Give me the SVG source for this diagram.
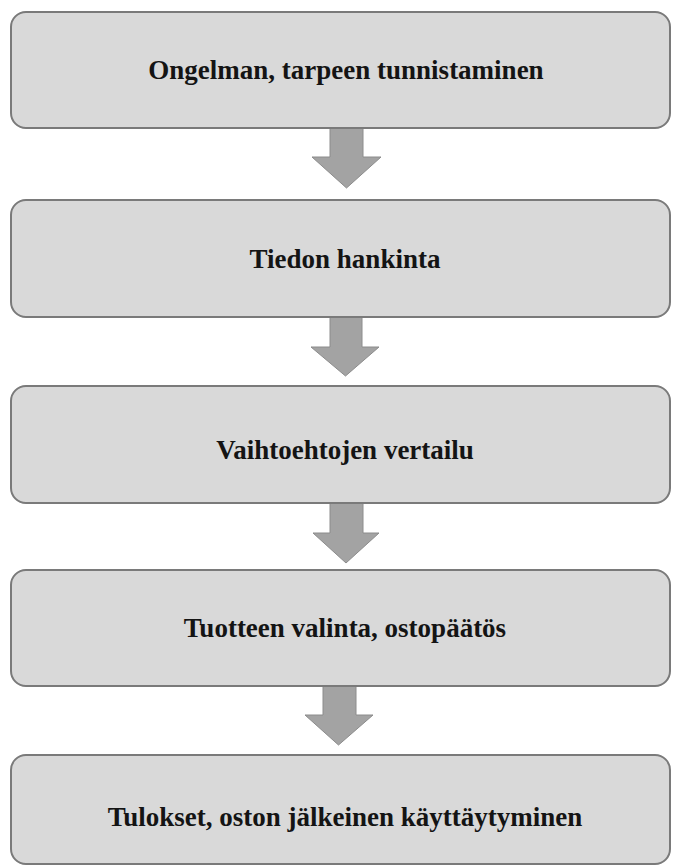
<svg xmlns="http://www.w3.org/2000/svg" width="673" height="867" viewBox="0 0 673 867">
<style>
.box{fill:#d9d9d9;stroke:#7a7a7a;stroke-width:2}
.lbl{font-family:"Liberation Serif","Times New Roman",serif;font-weight:bold;font-size:27px;fill:#141414;text-anchor:middle}
.arr{fill:#a3a3a3;stroke:#8c8c8c;stroke-width:1}
</style>
<rect width="673" height="867" fill="#ffffff"/>
<g id="connectors">
<path class="arr" d="M330,128 H363 V157 H381 L346.5,188 L312,157 H330 Z"/>
<path class="arr" d="M330,317 H362 V347 H379 L345.5,376 L311,347 H330 Z"/>
<path class="arr" d="M330,503 H363 V533 H379 L346,563 L313,533 H330 Z"/>
<path class="arr" d="M323,686 H356 V715 H373 L338.5,745 L305,715 H323 Z"/>
</g>
<g id="n1">
<rect class="box" x="11" y="12" width="659" height="116" rx="15"/>
<text class="lbl" x="346" y="79">Ongelman, tarpeen tunnistaminen</text>
</g>
<g id="n2">
<rect class="box" x="11" y="200" width="659" height="117" rx="15"/>
<text class="lbl" x="345" y="268">Tiedon hankinta</text>
</g>
<g id="n3">
<rect class="box" x="11" y="386" width="659" height="117" rx="15"/>
<text class="lbl" x="345" y="459">Vaihtoehtojen vertailu</text>
</g>
<g id="n4">
<rect class="box" x="11" y="570" width="659" height="116" rx="15"/>
<text class="lbl" x="345" y="637">Tuotteen valinta, ostopäätös</text>
</g>
<g id="n5">
<rect class="box" x="11" y="755" width="659" height="109" rx="15"/>
<text class="lbl" x="345" y="826">Tulokset, oston jälkeinen käyttäytyminen</text>
</g>
</svg>
